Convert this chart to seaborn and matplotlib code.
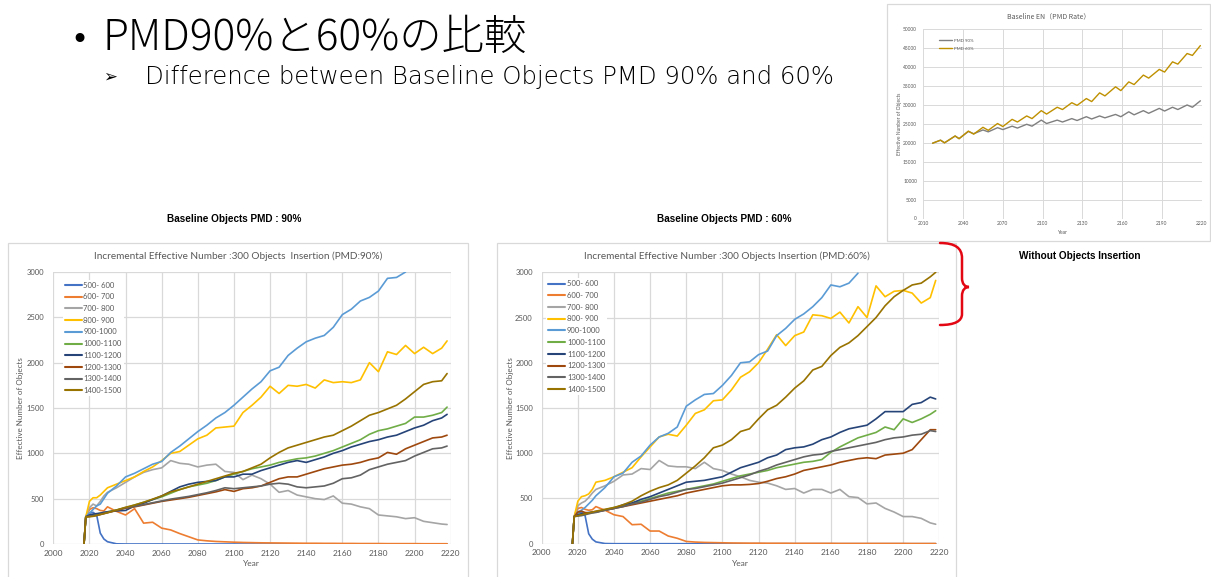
import numpy as np
import pandas as pd
import seaborn as sns
import matplotlib.pyplot as plt
from matplotlib.path import Path
from matplotlib.patches import PathPatch, Rectangle
from matplotlib.lines import Line2D

nan = np.nan

# ---------------------------------------------------------------- data
YEARS = [2017, 2018, 2020, 2022, 2024, 2026, 2028, 2030,
         2035, 2040, 2045, 2050, 2055, 2060,
         2065, 2070, 2075, 2080,
         2085, 2090, 2095, 2100,
         2105, 2110, 2115, 2120,
         2125, 2130, 2135, 2140,
         2145, 2150, 2155, 2160,
         2165, 2170, 2175, 2180,
         2185, 2190, 2195, 2200,
         2205, 2210, 2215,
         2218]

BANDS = ["500- 600", "600- 700", "700- 800", "800- 900", "900-1000",
         "1000-1100", "1100-1200", "1200-1300", "1300-1400", "1400-1500"]
BAND_COLORS = ["#4472C4", "#ED7D31", "#A5A5A5", "#FFC000", "#5B9BD5",
               "#70AD47", "#264478", "#9E480E", "#636363", "#997300"]

# PMD 90 %
L500 = [0, 300, 340, 350, 320, 120, 55, 25, 2,
        0, 0, 0, 0, 0, 0, 0, 0, 0, 0,
        0, 0, 0, 0, 0, 0, 0, 0, 0, 0,
        0, 0, 0, 0, 0, 0, 0, 0, 0, 0,
        0, 0, 0, 0, 0, 0, 0]
L600 = [0, 300, 380, 400, 390, 370, 365, 410,
        360, 320, 390, 230, 240, 175,
        155, 115, 80, 45,
        35, 28, 24, 20,
        17, 15, 13, 12,
        11, 10, 9, 8,
        8, 7, 7, 6,
        6, 5, 5, 5,
        4, 4, 4, 4,
        3, 3, 3,
        3]
L700 = [0, 300, 400, 440, 420, 470, 530, 570,
        620, 680, 740, 790, 820, 840,
        920, 890, 880, 850,
        870, 880, 800, 790,
        710, 760, 720, 660,
        570, 590, 540, 520,
        500, 490, 530, 450,
        440, 410, 390, 320,
        310, 300, 280, 290,
        250, 235, 220,
        215]
L800 = [0, 300, 470, 510, 510, 540, 580, 620,
        660, 700, 740, 800, 850, 920,
        1000, 1020, 1090, 1160,
        1200, 1280, 1290, 1300,
        1450, 1530, 1620, 1740,
        1660, 1750, 1740, 1760,
        1720, 1810, 1780, 1790,
        1780, 1810, 2000, 1900,
        2120, 2090, 2190, 2100,
        2170, 2100, 2160,
        2240]
L900 = [0, 300, 340, 380, 420, 440, 500, 560,
        640, 740, 780, 830, 880, 910,
        1010, 1080, 1160, 1240,
        1310, 1390, 1450, 1530,
        1620, 1710, 1790, 1910,
        1950, 2080, 2160, 2230,
        2270, 2300, 2390, 2530,
        2590, 2680, 2720, 2790,
        2930, 2940, 3000, nan,
        nan, nan, nan,
        nan]
L1000 = [0, 300, 310, 320, 330, 340, 345, 355,
         375, 400, 430, 460, 490, 520,
         560, 600, 630, 650,
         670, 700, 740, 770,
         800, 830, 850, 870,
         900, 920, 940, 950,
         970, 1000, 1030, 1070,
         1110, 1150, 1210, 1250,
         1270, 1300, 1330, 1400,
         1400, 1420, 1450,
         1510]
L1100 = [0, 300, 320, 330, 335, 340, 350, 355,
         365, 370, 420, 450, 490, 530,
         580, 630, 660, 680,
         690, 700, 740, 740,
         770, 770, 810, 840,
         870, 900, 920, 900,
         930, 960, 1000, 1030,
         1070, 1100, 1130, 1150,
         1180, 1200, 1240, 1280,
         1310, 1360, 1390,
         1430]
L1200 = [0, 300, 305, 310, 315, 325, 335, 345,
         370, 395, 410, 430, 450, 470,
         485, 500, 515, 535,
         555, 575, 600, 580,
         610, 620, 640, 680,
         720, 740, 740, 770,
         800, 830, 850, 870,
         880, 900, 930, 950,
         1010, 990, 1050, 1090,
         1130, 1170, 1180,
         1200]
L1300 = [0, 300, 305, 310, 318, 328, 338, 348,
         372, 400, 415, 435, 455, 475,
         495, 510, 525, 545,
         565, 590, 620, 610,
         620, 630, 640, 660,
         670, 660, 630, 620,
         630, 640, 670, 720,
         730, 760, 820, 850,
         880, 900, 920, 970,
         1010, 1050, 1060,
         1080]
L1400 = [0, 300, 300, 305, 315, 325, 335, 345,
         375, 405, 430, 460, 495, 530,
         575, 600, 630, 660,
         690, 720, 750, 780,
         800, 840, 880, 950,
         1010, 1060, 1090, 1120,
         1150, 1180, 1200, 1250,
         1300, 1360, 1420, 1450,
         1490, 1530, 1600, 1680,
         1760, 1790, 1800,
         1880]

# PMD 60 %
R500 = [0, 300, 340, 350, 310, 110, 50, 20, 2,
        0, 0, 0, 0, 0, 0, 0, 0, 0, 0,
        0, 0, 0, 0, 0, 0, 0, 0, 0, 0,
        0, 0, 0, 0, 0, 0, 0, 0, 0, 0,
        0, 0, 0, 0, 0, 0, 0]
R600 = [0, 300, 390, 400, 380, 370, 375, 410,
        370, 320, 300, 210, 215, 140,
        140, 85, 60, 25,
        18, 14, 12, 10,
        8, 7, 6, 6,
        5, 5, 5, 4,
        4, 4, 4, 4,
        3, 3, 3, 3,
        3, 3, 3, 3,
        2, 2, 2,
        2]
R700 = [0, 300, 420, 450, 470, 510, 560, 600,
        640, 690, 760, 770, 830, 820,
        920, 860, 850, 850,
        830, 900, 830, 810,
        770, 740, 700, 680,
        670, 640, 600, 610,
        560, 600, 600, 560,
        600, 520, 510, 440,
        450, 390, 350, 300,
        300, 280, 230,
        215]
R800 = [0, 300, 470, 520, 530, 550, 600, 680,
        700, 740, 790, 840, 960, 1070,
        1180, 1210, 1190, 1310,
        1440, 1480, 1580, 1590,
        1700, 1840, 1900, 2000,
        2150, 2310, 2190, 2300,
        2340, 2530, 2520, 2490,
        2560, 2440, 2620, 2500,
        2850, 2730, 2790, 2800,
        2770, 2660, 2720,
        2910]
R900 = [0, 300, 350, 370, 400, 440, 480, 530,
        620, 740, 780, 900, 970, 1090,
        1180, 1220, 1290, 1520,
        1590, 1650, 1660, 1750,
        1860, 2000, 2010, 2090,
        2130, 2300, 2380, 2480,
        2540, 2620, 2720, 2860,
        2840, 2880, 2990, nan,
        nan, nan, nan, nan,
        nan, nan, nan,
        nan]
R1000 = [0, 300, 320, 330, 335, 340, 345, 350,
         375, 400, 420, 450, 470, 500,
         530, 560, 580, 600,
         620, 640, 660, 690,
         720, 750, 770, 790,
         810, 840, 860, 880,
         900, 910, 930, 1010,
         1070, 1120, 1170, 1200,
         1230, 1290, 1260, 1380,
         1340, 1380, 1430,
         1470]
R1100 = [0, 300, 320, 330, 340, 345, 350, 355,
         370, 390, 430, 450, 490, 520,
         560, 600, 640, 680,
         690, 700, 720, 740,
         790, 840, 870, 900,
         950, 980, 1040, 1060,
         1070, 1100, 1150, 1180,
         1230, 1270, 1290, 1310,
         1380, 1460, 1460, 1460,
         1540, 1560, 1620,
         1600]
R1200 = [0, 300, 350, 360, 345, 340, 345, 350,
         370, 390, 410, 430, 450, 470,
         490, 510, 530, 560,
         580, 600, 620, 640,
         650, 650, 655, 665,
         690, 720, 740, 770,
         810, 830, 850, 870,
         900, 920, 940, 950,
         940, 980, 990, 1000,
         1040, 1150, 1260,
         1260]
R1300 = [0, 300, 305, 310, 320, 330, 340, 345,
         370, 390, 410, 440, 460, 490,
         520, 540, 570, 600,
         610, 630, 650, 670,
         700, 730, 760, 800,
         830, 870, 900, 930,
         960, 980, 990, 1020,
         1040, 1060, 1080, 1100,
         1120, 1150, 1170, 1180,
         1200, 1210, 1250,
         1240]
R1400 = [0, 300, 310, 320, 330, 340, 350, 360,
         380, 400, 430, 470, 530, 580,
         620, 650, 700, 780,
         860, 950, 1060, 1090,
         1150, 1240, 1270, 1380,
         1480, 1530, 1620, 1720,
         1800, 1920, 1960, 2080,
         2170, 2220, 2300, 2400,
         2500, 2630, 2730, 2800,
         2860, 2880, 2950,
         3000]

# Baseline effective number without insertion
EN_YEARS = [2017, 2023, 2026, 2034, 2037, 2044, 2048, 2055, 2059, 2066,
            2070, 2077, 2081, 2088, 2092, 2099, 2103, 2111, 2115, 2122,
            2126, 2133, 2137, 2143, 2147, 2155, 2159, 2165, 2169, 2176,
            2180, 2188, 2192, 2198, 2202, 2209, 2213, 2219]
EN_PMD90 = [19900, 20700, 20000, 21800, 21100, 23000, 22400, 23400, 22900, 24000,
            23500, 24400, 23900, 24900, 24400, 26000, 25100, 26000, 25500, 26400,
            25900, 26900, 26300, 27100, 26600, 27500, 26900, 28200, 27400, 28500,
            27800, 29100, 28400, 29400, 28800, 30000, 29400, 31100]
EN_PMD60 = [19900, 20700, 20000, 21800, 21100, 23100, 22300, 24100, 23300, 25100,
            24300, 26200, 25500, 27100, 26400, 28500, 27600, 29400, 28800, 30600,
            29900, 31700, 30900, 33200, 32400, 34800, 33800, 36100, 35400, 37900,
            37100, 39400, 38700, 41400, 40800, 43600, 43100, 45700]
EN_LABELS = ["PMD 90%", "PMD 60%"]
EN_COLORS = ["#7F7F7F", "#BF9000"]

PANEL_90 = [L500, L600, L700, L800, L900, L1000, L1100, L1200, L1300, L1400]
PANEL_60 = [R500, R600, R700, R800, R900, R1000, R1100, R1200, R1300, R1400]

# ---------------------------------------------------------------- style
sns.set_style("white")
plt.rcParams["font.family"] = ["Lato", "DejaVu Sans"]

W, H = 1211, 577
GRID = "#D9D9D9"
TXT = "#595959"


def fx(x):
    return x / W


def fy(y):
    return 1 - y / H


fig = plt.figure(figsize=(W / 100, H / 100), dpi=100)
fig.patch.set_facecolor("white")

# chart frames
for (x0, y0, x1, y1) in [(8, 243, 468, 590), (497, 243, 956, 590), (887, 4, 1210, 241)]:
    fig.patches.append(Rectangle((fx(x0), fy(y1)), (x1 - x0) / W, (y1 - y0) / H,
                                 transform=fig.transFigure, fill=False,
                                 ec=GRID, lw=0.9))


def band_frame(series):
    parts = [pd.DataFrame({"Year": YEARS, "Value": vals, "Band": band})
             for band, vals in zip(BANDS, series)]
    return pd.concat(parts, ignore_index=True)


def draw_panel(ax, series, legend_anchor):
    df = band_frame(series)
    sns.lineplot(data=df, x="Year", y="Value", hue="Band", hue_order=BANDS,
                 palette=BAND_COLORS, linewidth=1.2, estimator=None,
                 legend=False, ax=ax)
    ax.set_xlim(2000, 2220)
    ax.set_ylim(0, 3000)
    ax.set_xticks(range(2000, 2221, 20))
    ax.set_yticks(range(0, 3001, 500))
    ax.grid(True, color=GRID, lw=0.9)
    ax.set_axisbelow(True)
    for s in ax.spines.values():
        s.set_visible(False)
    ax.tick_params(length=0, labelsize=6, labelcolor=TXT)
    ax.tick_params(axis="y", pad=6.5, labelsize=5.5)
    ax.tick_params(axis="x", pad=4)
    ax.set_xlabel("")
    ax.set_ylabel("")
    handles = [Line2D([], [], color=c, lw=1.5) for c in BAND_COLORS]
    leg = ax.legend(handles, BANDS, loc="upper left", bbox_to_anchor=legend_anchor,
                    fontsize=5.5, frameon=True, facecolor="white", edgecolor="none",
                    framealpha=1, labelspacing=0.62, handlelength=2.2,
                    handletextpad=0.25, borderpad=0.25, borderaxespad=0)
    for t in leg.get_texts():
        t.set_color(TXT)


ax1 = fig.add_axes([fx(53.3), fy(544), (450.7 - 53.3) / W, (544 - 272) / H])
draw_panel(ax1, PANEL_90, (0.024, 0.972))
ax2 = fig.add_axes([fx(541.7), fy(543.7), (939.3 - 541.7) / W, (543.7 - 272.3) / H])
draw_panel(ax2, PANEL_60, (0.012, 0.978))

# panel titles and axis names
fig.text(fx(238), fy(256), "Incremental Effective Number :300 Objects  Insertion (PMD:90%)",
         ha="center", va="center", fontsize=7.2, color=TXT)
fig.text(fx(727), fy(256), "Incremental Effective Number :300 Objects Insertion (PMD:60%)",
         ha="center", va="center", fontsize=7.2, color=TXT)
for cx, cy, ycx in [(251, 563, 21), (740, 563, 510)]:
    fig.text(fx(cx), fy(cy), "Year", ha="center", va="center", fontsize=6, color=TXT)
    fig.text(fx(ycx), fy(408), "Effective Number of Objects", ha="center", va="center",
             rotation=90, fontsize=5.8, color=TXT)

# baseline chart without insertion
ax3 = fig.add_axes([fx(923.3), fy(218.5), (1201.7 - 923.3) / W, (218.5 - 29.3) / H])
en = pd.concat([
    pd.DataFrame({"Year": EN_YEARS, "EN": EN_PMD90, "Case": EN_LABELS[0]}),
    pd.DataFrame({"Year": EN_YEARS, "EN": EN_PMD60, "Case": EN_LABELS[1]}),
], ignore_index=True)
sns.lineplot(data=en, x="Year", y="EN", hue="Case", hue_order=EN_LABELS,
             palette=EN_COLORS, linewidth=1.0, estimator=None, legend=False, ax=ax3)
ax3.set_xlim(2010, 2220)
ax3.set_ylim(0, 50000)
ax3.set_xticks(range(2010, 2221, 30))
ax3.set_yticks(range(0, 50001, 5000))
ax3.grid(True, color=GRID, lw=0.7)
ax3.set_axisbelow(True)
for s in ax3.spines.values():
    s.set_visible(False)
ax3.tick_params(length=0, labelsize=3.5, labelcolor=TXT, pad=2)
ax3.tick_params(axis="y", pad=4.5)
ax3.set_xlabel("")
ax3.set_ylabel("")
leg3 = ax3.legend([Line2D([], [], color=c, lw=1.0) for c in EN_COLORS], EN_LABELS,
                  loc="upper left", bbox_to_anchor=(0.055, 0.95), fontsize=3.2,
                  frameon=False, labelspacing=0.9, handlelength=3.0,
                  handletextpad=0.4, borderpad=0, borderaxespad=0)
for t in leg3.get_texts():
    t.set_color(TXT)
fig.text(fx(1049), fy(16), "Baseline EN（PMD Rate）", ha="center", va="center",
         fontsize=5, color=TXT, family=["Noto Sans CJK JP", "DejaVu Sans"])
fig.text(fx(1062), fy(233), "Year", ha="center", va="center", fontsize=3.5, color=TXT)
fig.text(fx(900), fy(124), "Effective Number of Objects", ha="center", va="center",
         rotation=90, fontsize=3.5, color=TXT)

# slide headings
fig.text(fx(70), fy(40), "•", ha="left", va="center", fontsize=22,
         family=["DejaVu Sans"], color="black")
fig.text(fx(103), fy(38), "PMD90%と60%の比較", ha="left", va="center", fontsize=30.5,
         family=["Noto Sans CJK JP", "DejaVu Sans"], weight="light", color="black")
fig.text(fx(103), fy(77), "➢", ha="left", va="center", fontsize=12,
         family=["DejaVu Sans", "Noto Sans CJK JP"], color="black")
fig.text(fx(145), fy(77), "Difference between Baseline Objects PMD 90% and 60%",
         ha="left", va="center", fontsize=17.6,
         family=["DejaVu Sans", "Noto Sans CJK JP"], weight="light", color="black")

bold_family = ["Liberation Sans Narrow", "Liberation Sans", "DejaVu Sans"]
fig.text(fx(234), fy(219), "Baseline Objects PMD : 90%", ha="center", va="center",
         fontsize=7.2, weight="bold", family=bold_family, color="black")
fig.text(fx(724), fy(219), "Baseline Objects PMD : 60%", ha="center", va="center",
         fontsize=7.2, weight="bold", family=bold_family, color="black")
fig.text(fx(1080), fy(256), "Without Objects Insertion", ha="center", va="center",
         fontsize=7.2, weight="bold", family=bold_family, color="black")

# red brace linking the two top curves to the baseline chart
brace = [(940, 243), (955, 243), (962, 248), (962, 258),
         (962, 278),
         (962, 284), (965, 287), (969, 287),
         (965, 287), (962, 290), (962, 296),
         (962, 314),
         (962, 321), (955, 325), (940, 325)]
codes = [Path.MOVETO, Path.CURVE4, Path.CURVE4, Path.CURVE4,
         Path.LINETO,
         Path.CURVE4, Path.CURVE4, Path.CURVE4,
         Path.CURVE4, Path.CURVE4, Path.CURVE4,
         Path.LINETO,
         Path.CURVE4, Path.CURVE4, Path.CURVE4]
fig.patches.append(PathPatch(Path([(fx(x), fy(y)) for x, y in brace], codes),
                             transform=fig.transFigure, fill=False,
                             ec="#E30613", lw=1.8, capstyle="round"))

fig.savefig("out.png", dpi=100, facecolor="white")
